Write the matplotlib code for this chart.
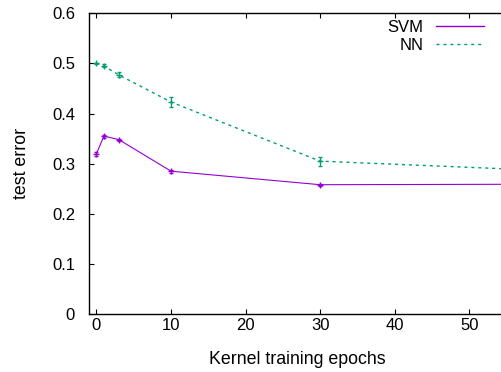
"""Test error vs. kernel training epochs, SVM and NN with error bars."""

import matplotlib

matplotlib.use("Agg")
import matplotlib.pyplot as plt  # noqa: E402
from matplotlib.lines import Line2D  # noqa: E402

# epochs at which each model was evaluated
epochs = [0, 1, 3, 10, 30, 60]

svm_err = [0.320, 0.355, 0.348, 0.285, 0.258, 0.259]
svm_std = [0.004, 0.003, 0.002, 0.003, 0.002, 0.002]

nn_err = [0.500, 0.495, 0.477, 0.423, 0.305, 0.2865]
nn_std = [0.001, 0.003, 0.005, 0.010, 0.009, 0.005]

x_ticks = [0, 10, 20, 30, 40, 50]
y_ticks = [0, 0.1, 0.2, 0.3, 0.4, 0.5, 0.6]
y_tick_labels = ["0", "0.1", "0.2", "0.3", "0.4", "0.5", "0.6"]

SVM_COLOR = "#9400d3"
NN_COLOR = "#009e73"
NN_DASH = (0, (2.2, 2.8))

plt.rcParams["font.family"] = ["Liberation Sans", "DejaVu Sans"]
plt.rcParams["font.size"] = 12

fig = plt.figure(figsize=(5.02, 3.72), dpi=100)
ax = fig.add_axes([0.1773, 0.1559, 0.8319, 0.8083])

ax.errorbar(epochs, svm_err, yerr=svm_std, color=SVM_COLOR, lw=0.8,
            marker="+", ms=5, mew=1.0, capsize=1.7, elinewidth=0.8,
            capthick=0.8)
ax.errorbar(epochs, nn_err, yerr=nn_std, color=NN_COLOR, lw=1.0,
            ls=NN_DASH, marker="+", ms=5, mew=1.0, capsize=1.7,
            elinewidth=0.8, capthick=0.8)

ax.set_xlim(-1, 55)
ax.set_ylim(0, 0.6)
ax.set_xticks(x_ticks)
ax.set_yticks(y_ticks)
ax.set_yticklabels(y_tick_labels)
ax.tick_params(direction="in", length=3.5, width=0.8, top=True, right=True)
ax.tick_params(axis="y", pad=10)
ax.tick_params(axis="x", pad=3)
for s in ax.spines.values():
    s.set_linewidth(1.0)

ax.set_xlabel("Kernel training epochs", fontsize=12.8, labelpad=13)
ax.set_ylabel("test error", fontsize=12.8, labelpad=16)

# legend samples are plain lines, like gnuplot's key
handles = [
    Line2D([], [], color=SVM_COLOR, lw=1.0),
    Line2D([], [], color=NN_COLOR, lw=1.0, ls=NN_DASH),
]
ax.legend(handles, ["SVM", "NN"], loc="upper right",
          bbox_to_anchor=(0.955, 0.99), frameon=False, markerfirst=False,
          handlelength=2.9, handletextpad=0.75, labelspacing=0.22,
          borderpad=0.2, borderaxespad=0.0)

fig.savefig("out.png", dpi=100)
